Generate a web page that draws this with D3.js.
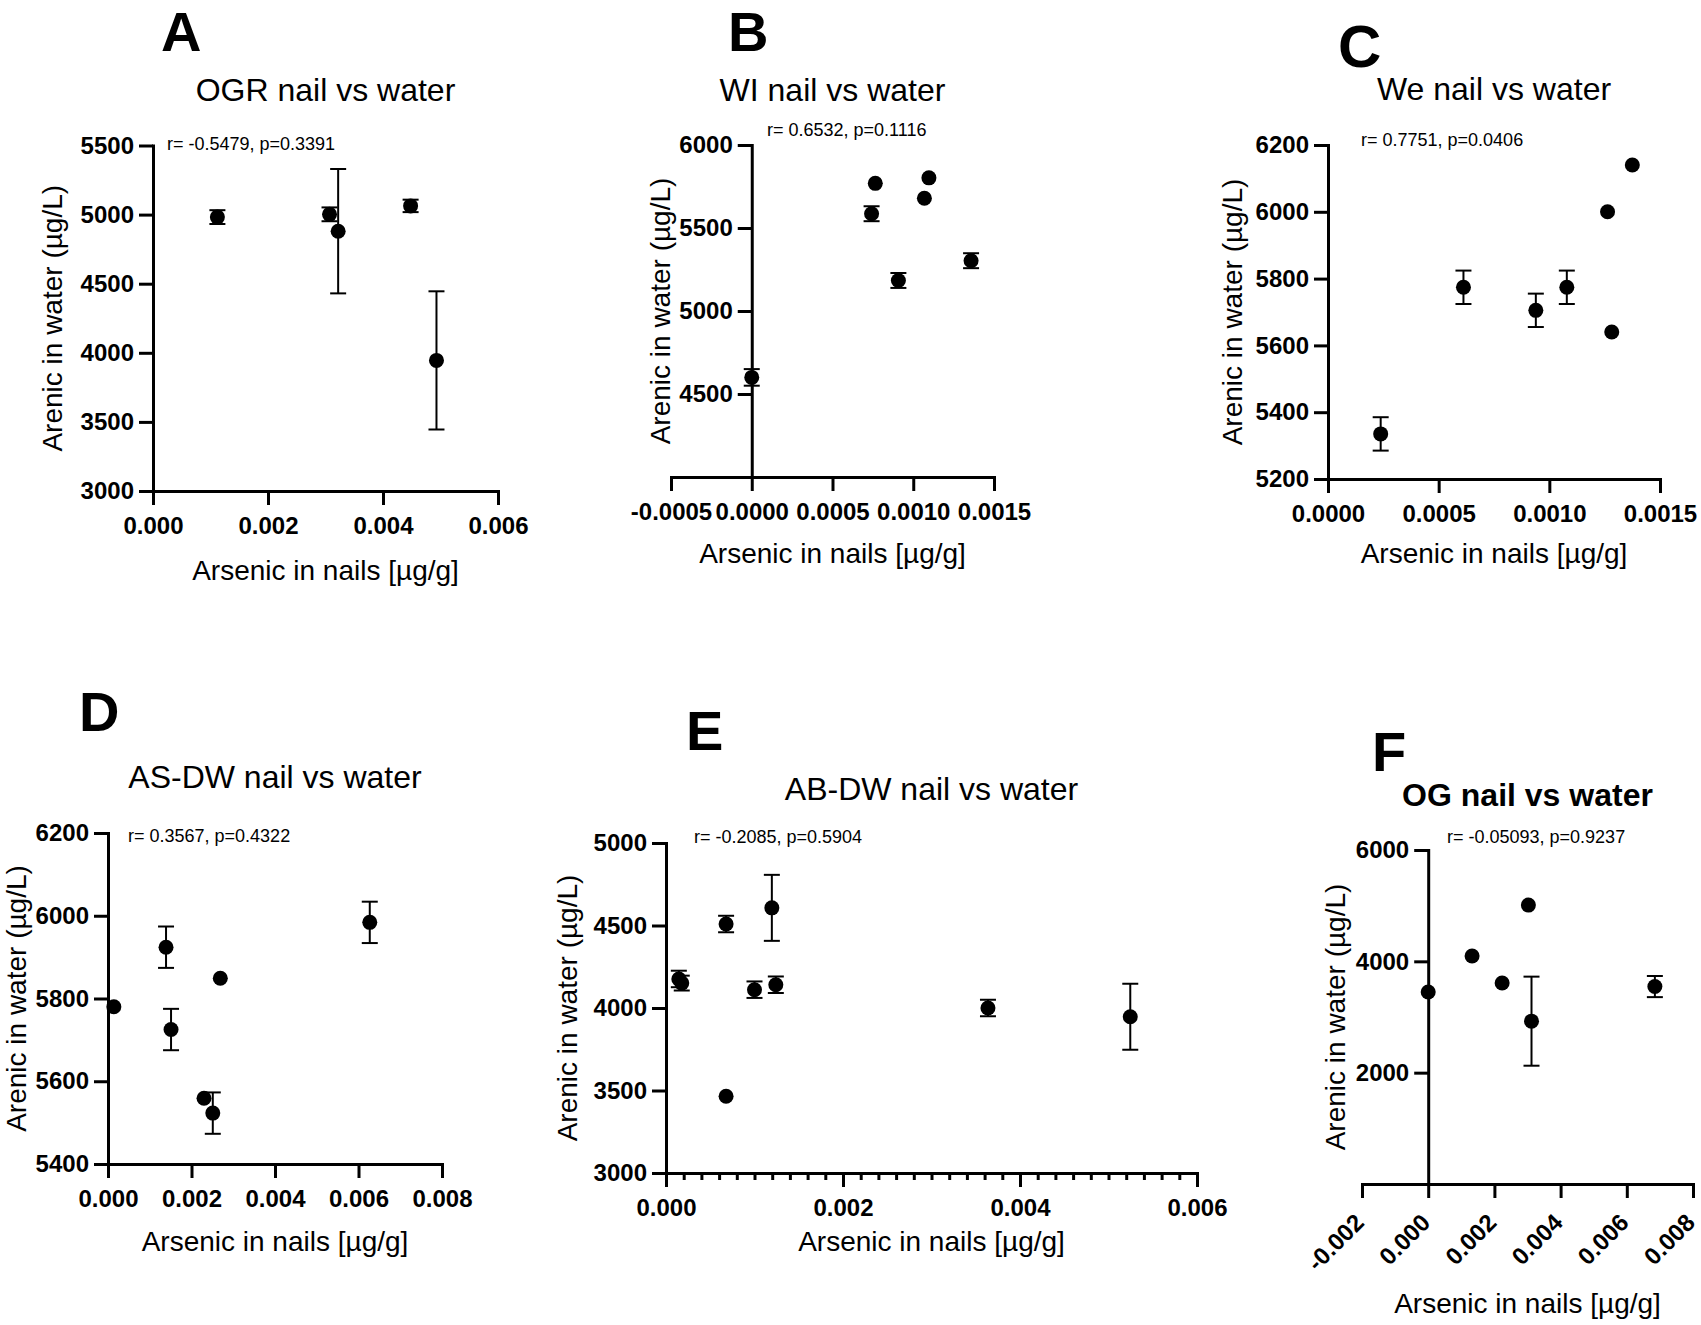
<!DOCTYPE html>
<html><head><meta charset="utf-8">
<script src="https://cdn.jsdelivr.net/npm/d3@7"></script>
<style>
body{margin:0;background:#fff}
text{font-family:"Liberation Sans",Arial,Helvetica,sans-serif;fill:#000}
</style>
</head><body>
<svg id="chart" width="1701" height="1325"></svg>
<script>
// ---------------- DATA ----------------
const letters = ["A","B","C","D","E","F"];
const titles = ["OGR nail vs water","WI nail vs water","We nail vs water","AS-DW nail vs water","AB-DW nail vs water","OG nail vs water"];
const stats = ["r= -0.5479, p=0.3391","r= 0.6532, p=0.1116","r= 0.7751, p=0.0406","r= 0.3567, p=0.4322","r= -0.2085, p=0.5904","r= -0.05093, p=0.9237"];
const xTitle = "Arsenic in nails [\u00b5g/g]";
const yTitle = "Arenic in water (\u00b5g/L)";

// A: OGR
const ogrNail  = [0.00112, 0.00307, 0.00322, 0.00448, 0.00493];
const ogrWater = [4982, 5002, 4880, 5063, 3945];
const ogrSD    = [50, 50, 450, 45, 500];
// B: WI
const wiNail  = [0.0, 0.000742, 0.000765, 0.000908, 0.001069, 0.001097, 0.001358];
const wiWater = [4600, 5586, 5769, 5184, 5679, 5802, 5303];
const wiSD    = [50, 45, 0, 45, 0, 0, 45];
// C: We
const weNail  = [0.000238, 0.000612, 0.000939, 0.001079, 0.001263, 0.001282, 0.001375];
const weWater = [5335, 5774, 5705, 5774, 6000, 5640, 6140];
const weSD    = [50, 50, 50, 50, 0, 0, 0];
// D: AS-DW
const asNail  = [0.00014, 0.00139, 0.00151, 0.00230, 0.00251, 0.00269, 0.00627];
const asWater = [5780, 5924, 5725, 5559, 5523, 5849, 5984];
const asSD    = [0, 50, 50, 0, 50, 0, 50];
// E: AB-DW
const abNail  = [0.000145, 0.000178, 0.000679, 0.000679, 0.00100, 0.001196, 0.001241, 0.003638, 0.005246];
const abWater = [4176, 4151, 4509, 3465, 4111, 4607, 4141, 4000, 3947];
const abSD    = [50, 45, 50, 0, 50, 200, 50, 50, 200];
// F: OG
const ogNail  = [0.0, 0.001326, 0.002234, 0.003027, 0.003121, 0.006848];
const ogWater = [3450, 4097, 3612, 5010, 2925, 3547];
const ogSD    = [0, 0, 0, 0, 800, 190];

// axis ticks
const xTicksA = [0, 0.002, 0.004, 0.006];
const yTicksA = [3000, 3500, 4000, 4500, 5000, 5500];
const xTicksB = [-0.0005, 0, 0.0005, 0.0010, 0.0015];
const yTicksB = [4500, 5000, 5500, 6000];
const xTicksC = [0, 0.0005, 0.0010, 0.0015];
const yTicksC = [5200, 5400, 5600, 5800, 6000, 6200];
const xTicksD = [0, 0.002, 0.004, 0.006, 0.008];
const yTicksD = [5400, 5600, 5800, 6000, 6200];
const xTicksE = [0, 0.002, 0.004, 0.006];
const xMinorE = d3.range(0, 30).map(i => i * 0.0002);
const yTicksE = [3000, 3500, 4000, 4500, 5000];
const xTicksF = [-0.002, 0, 0.002, 0.004, 0.006, 0.008];
const yTicksF = [2000, 4000, 6000];

// ---------------- LAYOUT ----------------
const panels = [
  {nail: ogrNail, water: ogrWater, sd: ogrSD, xDomain:[0,0.006], yDomain:[3000,5500], xTicks:xTicksA, yTicks:yTicksA, xDec:3,
   x0:153, x1:498, y0:491, y1:145.5, letterX:161, letterY:51, letterSize:56, titleY:101, statX:167, statY:150, yTitleOff:-91, xTitleY:580},
  {nail: wiNail, water: wiWater, sd: wiSD, xDomain:[-0.0005,0.0015], yDomain:[4000,6000], xTicks:xTicksB, yTicks:yTicksB, xDec:4, yAxisAt:0,
   x0:671, x1:994, y0:477, y1:145, letterX:728, letterY:51, letterSize:56, titleY:101, statX:767, statY:136, yTitleOff:-82, xTitleY:563},
  {nail: weNail, water: weWater, sd: weSD, xDomain:[0,0.0015], yDomain:[5200,6200], xTicks:xTicksC, yTicks:yTicksC, xDec:4,
   x0:1328, x1:1660, y0:479, y1:145, letterX:1338, letterY:67, letterSize:60, titleY:100, statX:1361, statY:146, yTitleOff:-86, xTitleY:563},
  {nail: asNail, water: asWater, sd: asSD, xDomain:[0,0.008], yDomain:[5400,6200], xTicks:xTicksD, yTicks:yTicksD, xDec:3,
   x0:108, x1:442, y0:1164, y1:833, letterX:79, letterY:731, letterSize:56, titleY:788, statX:128, statY:842, yTitleOff:-82, xTitleY:1251},
  {nail: abNail, water: abWater, sd: abSD, xDomain:[0,0.006], yDomain:[3000,5000], xTicks:xTicksE, yTicks:yTicksE, xDec:3, minor:xMinorE,
   x0:666, x1:1197, y0:1173, y1:843, letterX:686, letterY:750, letterSize:56, titleY:800, statX:694, statY:843, yTitleOff:-89, xTitleY:1251},
  {nail: ogNail, water: ogWater, sd: ogSD, xDomain:[-0.002,0.008], yDomain:[0,6000], xTicks:xTicksF, yTicks:yTicksF, xDec:3, yAxisAt:0,
   rotate:true, boldTitle:true,
   x0:1362, x1:1693, y0:1184, y1:850, letterX:1372, letterY:771, letterSize:56, titleY:806, statX:1447, statY:843, yTitleOff:-83, xTitleY:1313}
];

const svg = d3.select("#chart");
svg.append("rect").attr("width",1701).attr("height",1325).attr("fill","#fff");
const FONT = '"Liberation Sans",Arial,Helvetica,sans-serif';
const TICK_FS = 24;

function styleAxis(g){
  g.attr("font-family", FONT).attr("font-size", TICK_FS).attr("font-weight","bold");
  g.selectAll("path.domain").attr("stroke","#000").attr("stroke-width",3).attr("stroke-linecap","square");
  g.selectAll(".tick line").attr("stroke","#000").attr("stroke-width",3);
  g.selectAll(".tick text").attr("fill","#000");
}

panels.forEach((p, i) => {
  const x = d3.scaleLinear().domain(p.xDomain).range([p.x0, p.x1]);
  const y = d3.scaleLinear().domain(p.yDomain).range([p.y0, p.y1]);
  const g = svg.append("g");

  g.append("text").attr("x", p.letterX).attr("y", p.letterY)
    .attr("font-size", p.letterSize).attr("font-weight","bold").text(letters[i]);
  g.append("text").attr("x", (p.x0 + p.x1) / 2).attr("y", p.titleY)
    .attr("text-anchor","middle").attr("font-size", 32)
    .attr("font-weight", p.boldTitle ? "bold" : "normal").text(titles[i]);
  g.append("text").attr("x", p.statX).attr("y", p.statY)
    .attr("font-size", 18).text(stats[i]);

  const fmt = d => d3.format("." + p.xDec + "f")(d).replace("\u2212","-");

  if (p.minor) {
    const gm = g.append("g").attr("transform", `translate(0,${p.y0})`)
      .call(d3.axisBottom(x).tickValues(p.minor).tickSize(7).tickFormat(""));
    gm.select("path.domain").remove();
    gm.selectAll(".tick line").attr("stroke","#000").attr("stroke-width",3);
  }

  const gx = g.append("g").attr("transform", `translate(0,${p.y0})`)
    .call(d3.axisBottom(x).tickValues(p.xTicks).tickFormat(fmt)
      .tickSize(14).tickPadding(12).tickSizeOuter(0));
  styleAxis(gx);
  if (p.rotate) {
    gx.selectAll(".tick text")
      .attr("x", 0).attr("y", 0).attr("dy", 0)
      .attr("text-anchor","end")
      .attr("transform","translate(3,40) rotate(-45)");
  }

  const yAxisX = (p.yAxisAt !== undefined) ? x(p.yAxisAt) : p.x0;
  const gy = g.append("g").attr("transform", `translate(${yAxisX},0)`)
    .call(d3.axisLeft(y).tickValues(p.yTicks).tickFormat(d3.format("d"))
      .tickSize(14).tickPadding(5).tickSizeOuter(0));
  styleAxis(gy);

  g.append("text").attr("x", (p.x0 + p.x1) / 2).attr("y", p.xTitleY)
    .attr("text-anchor","middle").attr("font-size", 28).text(xTitle);
  g.append("text")
    .attr("transform", `translate(${yAxisX + p.yTitleOff},${(p.y0 + p.y1) / 2}) rotate(-90)`)
    .attr("text-anchor","middle").attr("font-size", 28).text(yTitle);

  const pts = p.nail.map((v, k) => ({x: v, y: p.water[k], e: p.sd[k]}));
  const eb = g.append("g").attr("stroke","#000").attr("stroke-width",2);
  pts.filter(d => d.e > 0).forEach(d => {
    const cx = x(d.x), top = y(d.y + d.e), bot = y(d.y - d.e);
    eb.append("line").attr("x1",cx).attr("x2",cx).attr("y1",top).attr("y2",bot);
    eb.append("line").attr("x1",cx-8).attr("x2",cx+8).attr("y1",top).attr("y2",top);
    eb.append("line").attr("x1",cx-8).attr("x2",cx+8).attr("y1",bot).attr("y2",bot);
  });
  g.append("g").selectAll("circle").data(pts).join("circle")
    .attr("cx", d => x(d.x)).attr("cy", d => y(d.y)).attr("r", 7.5).attr("fill","#000");
});
</script>
</body></html>
